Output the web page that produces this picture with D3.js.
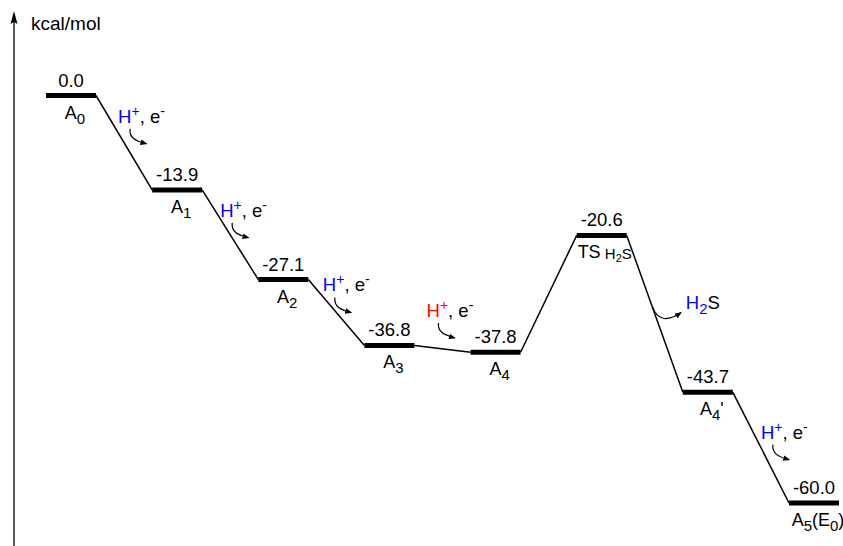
<!DOCTYPE html>
<html>
<head>
<meta charset="utf-8">
<script src="https://cdn.jsdelivr.net/npm/d3@7"></script>
<style>
	body { margin: 0; background: #fff; }
	text { font-family: "Liberation Sans", Arial, sans-serif; }
</style>
</head>
<body>
<div id="chart"></div>
<script>
// states of the pathway and their relative energies (kcal/mol)
const STATES = ["A0", "A1", "A2", "A3", "A4", "TS", "A4'", "A5"]
const ENERGIES = [0.0, -13.9, -27.1, -36.8, -37.8, -20.6, -43.7, -60.0]
// "_" marks the next character as subscript
const NAMES = ["A_0", "A_1", "A_2", "A_3", "A_4", "TS", "A_4'", "A_5(E_0)"]

// proton/electron transfer steps: index of the starting state, colour of H+
const PCET_FROM = [0, 1, 2, 3, 6]
const PCET_COLOR = ["#0000ff", "#0000ff", "#0000ff", "#ff0000", "#0000ff"]
// H2S released after the transition state
const RELEASE_FROM = 5

const WIDTH = 843
const HEIGHT = 546
const BAR = 50
// label offsets from the middle of each connecting line
const PCET_OFFSET = [[-6, -20], [-10, -18], [-13.5, -21], [-16, -32], [0, -9]]

const svg = d3.select("#chart")
	.append("svg")
		.attr("width", WIDTH)
		.attr("height", HEIGHT)

svg.append("defs").append("marker")
	.attr("id", "head")
	.attr("viewBox", "0 0 10 10")
	.attr("refX", 8)
	.attr("refY", 5)
	.attr("markerWidth", 7)
	.attr("markerHeight", 7)
	.attr("markerUnits", "userSpaceOnUse")
	.attr("orient", "auto")
	.append("path")
		.attr("d", "M0,1 L10,5 L0,9 Z")
		.attr("fill", "#000")

const x = d3.scalePoint()
	.domain(STATES)
	.range([71, 814])

const y = d3.scaleLinear()
	.domain([0, -60])
	.range([95.5, 503])

// plain hyphen for negatives, like the original
const fmt = d3.formatLocale({ decimal: ".", thousands: ",", grouping: [3], currency: ["", ""], minus: "-" }).format(".1f")

// energy axis (no ticks, just an arrow)
svg.append("line")
	.attr("x1", 14).attr("x2", 14)
	.attr("y1", HEIGHT).attr("y2", 20)
	.attr("stroke", "#000")
	.attr("stroke-width", 1.3)
svg.append("path")
	.attr("d", "M14,11 L10.5,24 L14,22 L17.5,24 Z")
	.attr("fill", "#000")
svg.append("text")
	.attr("x", 31)
	.attr("y", 30)
	.attr("font-size", 19)
	.text("kcal/mol")

const pts = STATES.map((s, i) => ({ name: s, e: ENERGIES[i], cx: x(s), cy: y(ENERGIES[i]) }))

// connecting lines
svg.selectAll(".link")
	.data(d3.pairs(pts))
	.enter().append("line")
		.attr("class", "link")
		.attr("x1", d => d[0].cx + BAR / 2)
		.attr("y1", d => d[0].cy)
		.attr("x2", d => d[1].cx - BAR / 2)
		.attr("y2", d => d[1].cy)
		.attr("stroke", "#000")
		.attr("stroke-width", 1.5)

// energy levels
svg.selectAll(".level")
	.data(pts)
	.enter().append("line")
		.attr("class", "level")
		.attr("x1", d => d.cx - BAR / 2)
		.attr("x2", d => d.cx + BAR / 2)
		.attr("y1", d => d.cy)
		.attr("y2", d => d.cy)
		.attr("stroke", "#000")
		.attr("stroke-width", 5)

svg.selectAll(".value")
	.data(pts)
	.enter().append("text")
		.attr("class", "value")
		.attr("x", d => d.cx)
		.attr("y", d => d.cy - 9)
		.attr("text-anchor", "middle")
		.attr("font-size", 18.5)
		.text(d => fmt(d.e))

// state names with subscripts
const names = svg.selectAll(".name")
	.data(pts)
	.enter().append("text")
		.attr("class", "name")
		.attr("x", (d, i) => d.cx + (i == 5 ? 3 : 4))
		.attr("y", d => d.cy + 23)
		.attr("text-anchor", "middle")
		.attr("font-size", 18)

names.each(function(d, i) {
	const t = d3.select(this)
	if (NAMES[i] == "TS") {
		t.append("tspan").text("TS")
		t.append("tspan").attr("font-size", 15).attr("dy", 1).text(" H")
		t.append("tspan").attr("font-size", 11).attr("dy", 3).text("2")
		t.append("tspan").attr("font-size", 15).attr("dy", -3).text("S")
		return
	}
	const parts = NAMES[i].split(/(_.)/).filter(p => p.length)
	let down = false
	parts.forEach(p => {
		if (p[0] == "_") {
			t.append("tspan").attr("font-size", 15).attr("dy", 5).text(p[1])
			down = true
		} else {
			t.append("tspan").attr("dy", down ? -5 : 0).text(p)
			down = false
		}
	})
})

// H+, e- annotations with curved arrows
const steps = PCET_FROM.map((f, k) => {
	const a = pts[f], b = pts[f + 1]
	const mx = (a.cx + BAR / 2 + b.cx - BAR / 2) / 2
	const my = (a.cy + b.cy) / 2
	return { hx: mx + PCET_OFFSET[k][0], hy: my + PCET_OFFSET[k][1], color: PCET_COLOR[k] }
})

const lab = svg.selectAll(".pcet")
	.data(steps)
	.enter().append("text")
		.attr("class", "pcet")
		.attr("x", d => d.hx)
		.attr("y", d => d.hy)
		.attr("font-size", 18.5)
lab.append("tspan").attr("fill", d => d.color).text("H")
lab.append("tspan").attr("fill", d => d.color).attr("font-size", 14).attr("dy", -7).text("+")
lab.append("tspan").attr("dy", 7).text(", e")
lab.append("tspan").attr("font-size", 14).attr("dy", -7).text("-")

svg.selectAll(".pcet-arrow")
	.data(steps)
	.enter().append("path")
		.attr("class", "pcet-arrow")
		.attr("d", d => {
			const sx = d.hx + 12, sy = d.hy + 6
			const ex = d.hx + 28, ey = d.hy + 21
			return `M${sx},${sy} C${sx - 1},${sy + 9} ${sx + 5},${ey - 3} ${ex},${ey}`
		})
		.attr("fill", "none")
		.attr("stroke", "#000")
		.attr("stroke-width", 1.2)
		.attr("marker-end", "url(#head)")

// H2S release
const ts = pts[RELEASE_FROM], nx = pts[RELEASE_FROM + 1]
const rx = (ts.cx + BAR / 2 + nx.cx - BAR / 2) / 2
const ry = (ts.cy + nx.cy) / 2
svg.append("path")
	.attr("d", `M${rx - 2.5},${ry - 7.5} Q${rx + 5},${ry + 13} ${rx + 26},${ry - 1}`)
	.attr("fill", "none")
	.attr("stroke", "#000")
	.attr("stroke-width", 1.2)
	.attr("marker-end", "url(#head)")
const h2s = svg.append("text")
	.attr("x", rx + 31)
	.attr("y", ry - 4.5)
	.attr("font-size", 18.5)
h2s.append("tspan").attr("fill", "#0000ff").text("H")
h2s.append("tspan").attr("fill", "#0000ff").attr("font-size", 15).attr("dy", 5).text("2")
h2s.append("tspan").attr("fill", "#000").attr("dy", -5).text("S")
</script>
</body>
</html>
